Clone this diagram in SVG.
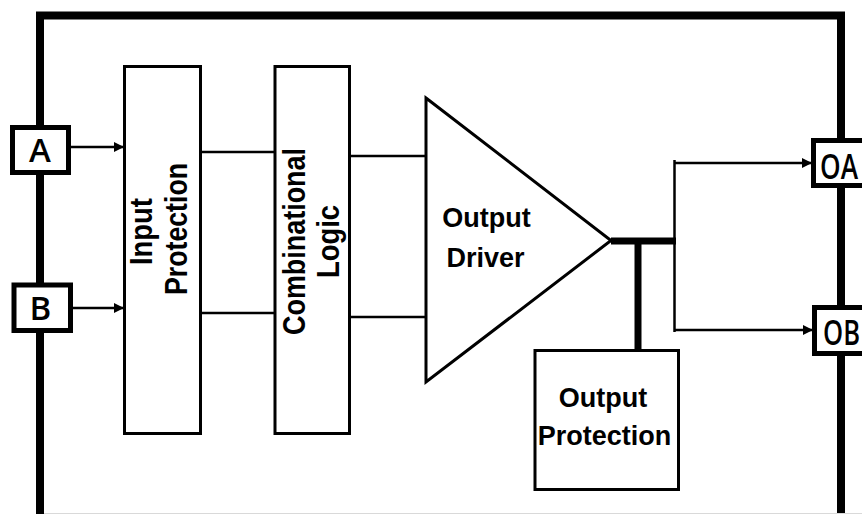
<svg xmlns="http://www.w3.org/2000/svg" width="862" height="514" viewBox="0 0 862 514">
<style>
.box{fill:#fff;stroke:#000;stroke-width:3}
.pin{fill:#fff;stroke:#000;stroke-width:5}
.wire{fill:none;stroke:#000;stroke-width:2.5}
.thick{fill:none;stroke:#000;stroke-width:7}
.lbl{font-family:"Liberation Sans",Arial,sans-serif;font-weight:bold;font-size:27px;fill:#000;text-anchor:middle}
.vlbl{font-family:"Liberation Sans",Arial,sans-serif;font-weight:bold;font-size:32px;fill:#000;text-anchor:middle}
.pinlbl{font-family:"Open Sans","Liberation Sans",sans-serif;font-weight:600;font-size:33px;fill:#000;text-anchor:middle}
</style>
<defs>
<marker id="arr" markerUnits="userSpaceOnUse" markerWidth="11" markerHeight="11" refX="10" refY="5" orient="auto">
<path d="M0,0 L10,5 L0,10 Z" fill="#000"/>
</marker>
</defs>
<rect width="862" height="514" fill="#fff"/>
<g id="frame">
<path d="M40,514 V15.5 H841 V514" fill="none" stroke="#000" stroke-width="8"/>
<line x1="44" y1="513.5" x2="862" y2="513.5" stroke="#d9d9d9" stroke-width="1"/>
</g>
<g id="connectors">
<line class="wire" x1="70" y1="147" x2="124" y2="147" marker-end="url(#arr)"/>
<line class="wire" x1="72" y1="308" x2="124" y2="308" marker-end="url(#arr)"/>
<line class="wire" x1="201" y1="152" x2="275" y2="152"/>
<line class="wire" x1="201" y1="313" x2="275" y2="313"/>
<line class="wire" x1="349" y1="156" x2="426" y2="156"/>
<line class="wire" x1="349" y1="317" x2="426" y2="317"/>
<line class="thick" x1="611" y1="241" x2="676" y2="241" stroke-width="6"/>
<line class="thick" x1="638" y1="241" x2="638" y2="350"/>
<line class="wire" x1="674.5" y1="160" x2="674.5" y2="332"/>
<line class="wire" x1="674.5" y1="163" x2="812" y2="163" marker-end="url(#arr)"/>
<line class="wire" x1="674.5" y1="330" x2="813" y2="330" marker-end="url(#arr)"/>
</g>
<g id="pinA">
<rect class="pin" x="12.5" y="127.5" width="56" height="45"/>
<text class="pinlbl" x="40" y="162">A</text>
</g>
<g id="pinB">
<rect class="pin" x="14" y="285" width="56.5" height="45.5"/>
<text class="pinlbl" x="40.5" y="320">B</text>
</g>
<g id="pinOA">
<rect class="pin" x="813.5" y="140.5" width="70" height="45"/>
<text class="pinlbl" x="820" y="179" style="text-anchor:start;font-size:35px" textLength="38" lengthAdjust="spacingAndGlyphs">OA</text>
</g>
<g id="pinOB">
<rect class="pin" x="814.5" y="307.5" width="70" height="46"/>
<text class="pinlbl" x="823" y="345" style="text-anchor:start;font-size:35px" textLength="37" lengthAdjust="spacingAndGlyphs">OB</text>
</g>
<g id="inputProtection">
<rect class="box" x="124.5" y="66.5" width="76" height="367"/>
<text class="vlbl" transform="translate(152,231.5) rotate(-90)" textLength="67" lengthAdjust="spacingAndGlyphs">Input</text>
<text class="vlbl" transform="translate(187,229) rotate(-90)" textLength="132" lengthAdjust="spacingAndGlyphs">Protection</text>
</g>
<g id="combinationalLogic">
<rect class="box" x="275" y="66.5" width="74.5" height="367"/>
<text class="vlbl" transform="translate(305,241.5) rotate(-90)" textLength="187" lengthAdjust="spacingAndGlyphs">Combinational</text>
<text class="vlbl" transform="translate(339,241.5) rotate(-90)" textLength="73" lengthAdjust="spacingAndGlyphs">Logic</text>
</g>
<g id="outputDriver">
<path class="box" d="M426,98 L611,240.5 L426,382 Z"/>
<text class="lbl" x="486.5" y="227">Output</text>
<text class="lbl" x="485.5" y="267">Driver</text>
</g>
<g id="outputProtection">
<rect class="box" x="535" y="350.5" width="143.5" height="139"/>
<text class="lbl" x="603" y="407">Output</text>
<text class="lbl" x="604.5" y="445">Protection</text>
</g>
</svg>
